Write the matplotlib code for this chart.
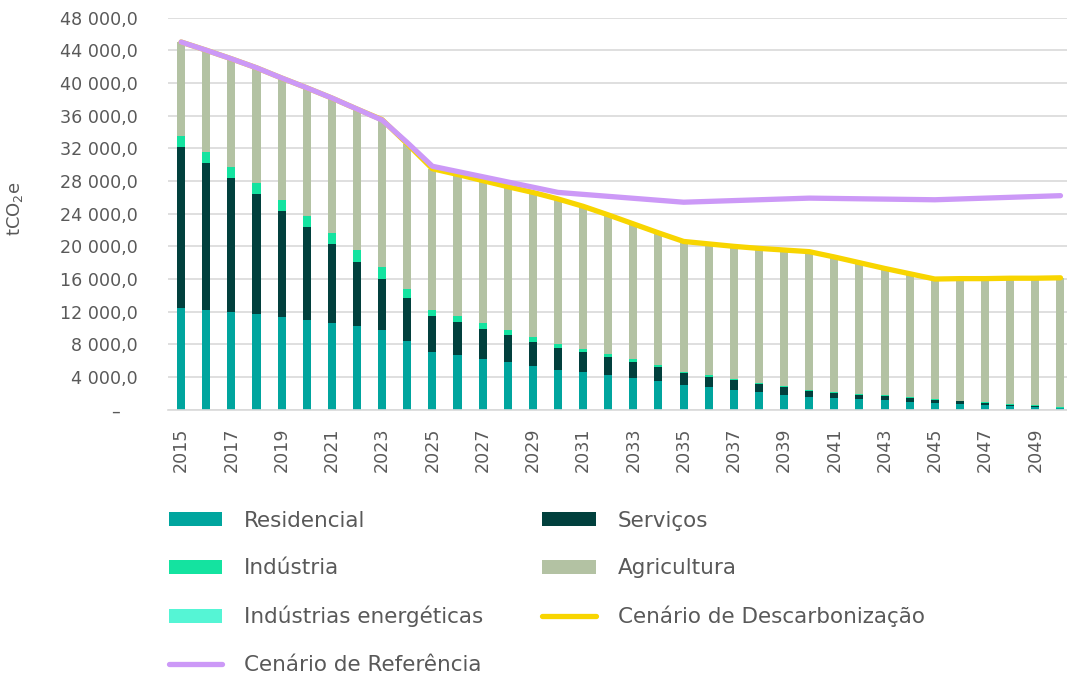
import matplotlib
matplotlib.use("Agg")
import matplotlib.pyplot as plt
import numpy as np

years = list(range(2015, 2051))

# tCO2e per sector
residencial = [12450, 12240, 11960, 11710, 11390, 11020, 10650, 10240, 9800, 8450,
               7100, 6690, 6240, 5800, 5390, 4900, 4570, 4240, 3880, 3510,
               3060, 2820, 2450, 2160, 1840, 1590, 1430, 1270, 1140, 980,
               820, 650, 530, 410, 290, 160]
servicos = [19670, 17960, 16370, 14660, 12940, 11310, 9590, 7880, 6200, 5260,
            4330, 4000, 3640, 3340, 2940, 2690, 2450, 2210, 1920, 1670,
            1390, 1180, 1140, 940, 890, 700, 610, 570, 490, 450,
            360, 370, 290, 200, 160, 80]
industria = [1350, 1390, 1380, 1340, 1380, 1430, 1390, 1390, 1430, 1110,
             810, 740, 730, 660, 570, 490, 450, 410, 360, 250,
             200, 200, 170, 170, 130, 80, 120, 120, 130, 80,
             90, 80, 80, 80, 80, 90]
agricultura = [11530, 12410, 13240, 14140, 14890, 15640, 16520, 17290, 18070, 17730,
               17260, 17370, 17440, 17500, 17700, 17720, 17430, 16990, 16590, 16220,
               15950, 16100, 16240, 16480, 16690, 16980, 16540, 16040, 15540, 15140,
               14730, 14950, 15150, 15410, 15570, 15820]
ind_energeticas = [0] * 36

cenario_descarb = [45000, 44000, 42950, 41850, 40600, 39400, 38150, 36800, 35500, 32550,
                   29500, 28800, 28050, 27300, 26600, 25800, 24900, 23850, 22750, 21650,
                   20600, 20300, 20000, 19750, 19550, 19350, 18700, 18000, 17300, 16650,
                   16000, 16050, 16050, 16100, 16100, 16150]
cenario_ref = [45000, 44000, 42950, 41850, 40600, 39400, 38150, 36800, 35450, 32700,
               29800, 29160, 28520, 27880, 27240, 26600, 26360, 26120, 25880, 25640,
               25400, 25500, 25600, 25700, 25800, 25900, 25860, 25820, 25780, 25740,
               25700, 25800, 25900, 26000, 26100, 26200]

y_ticks = list(range(0, 48001, 4000))

plt.rcParams['font.family'] = ['DejaVu Sans']
text_color = "#595959"

fig = plt.figure(figsize=(10.67, 6.74), dpi=100)
ax = fig.add_axes([0.1575, 0.392, 0.8425, 0.582])

x = np.arange(len(years))
w = 0.32
series = [
    ("Residencial", residencial, "#00A59E"),
    ("Serviços", servicos, "#01403D"),
    ("Indústria", industria, "#14E3A0"),
    ("Agricultura", agricultura, "#B3C2A3"),
    ("Indústrias energéticas", ind_energeticas, "#55F5D5"),
]
bottom = np.zeros(len(years))
handles = {}
for name, vals, col in series:
    vals = np.array(vals, dtype=float)
    handles[name] = ax.bar(x, vals, w, bottom=bottom, color=col, label=name, zorder=2)
    bottom += vals

h_desc, = ax.plot(x, cenario_descarb, color="#F8D500", lw=3.8, solid_capstyle="round",
                  label="Cenário de Descarbonização", zorder=3)
h_ref, = ax.plot(x, cenario_ref, color="#CC99F7", lw=3.8, solid_capstyle="round",
                 label="Cenário de Referência", zorder=4)

ax.set_ylim(0, 48000)
ax.set_xlim(-0.52, 35.26)
ax.set_yticks(y_ticks)
ax.set_yticklabels(["–   "] + [f"{v:,}".replace(",", " ") + ",0" for v in y_ticks[1:]])
ax.set_xticks(x[::2])
ax.set_xticklabels([str(y) for y in years[::2]], rotation=90)
ax.tick_params(axis="y", length=0, pad=22, labelsize=12.6, labelcolor=text_color)
ax.tick_params(axis="x", length=0, pad=13, labelsize=12.6, labelcolor=text_color)
ax.grid(axis="y", color="#D9D9D9", lw=1.2, zorder=0)
ax.set_axisbelow(True)
for s in ["top", "right", "left"]:
    ax.spines[s].set_visible(False)
ax.spines["bottom"].set_color("#D9D9D9")
ax.spines["bottom"].set_linewidth(1.2)

fig.text(0.014, 0.69, r"tCO$_2$e", rotation=90, ha="center", va="center",
         fontsize=13, color=text_color)

order = [handles["Residencial"], handles["Indústria"], handles["Indústrias energéticas"], h_ref,
         handles["Serviços"], handles["Agricultura"], h_desc]
labels = [h.get_label() for h in order]
leg = fig.legend(order, labels, ncol=2, loc="upper left", bbox_to_anchor=(0.148, 0.258),
                 frameon=False, fontsize=15.5, handlelength=2.5, handleheight=0.65,
                 handletextpad=1.0, labelspacing=1.28, columnspacing=2.75, borderpad=0)
for t in leg.get_texts():
    t.set_color(text_color)

fig.savefig("out.png", dpi=100)
